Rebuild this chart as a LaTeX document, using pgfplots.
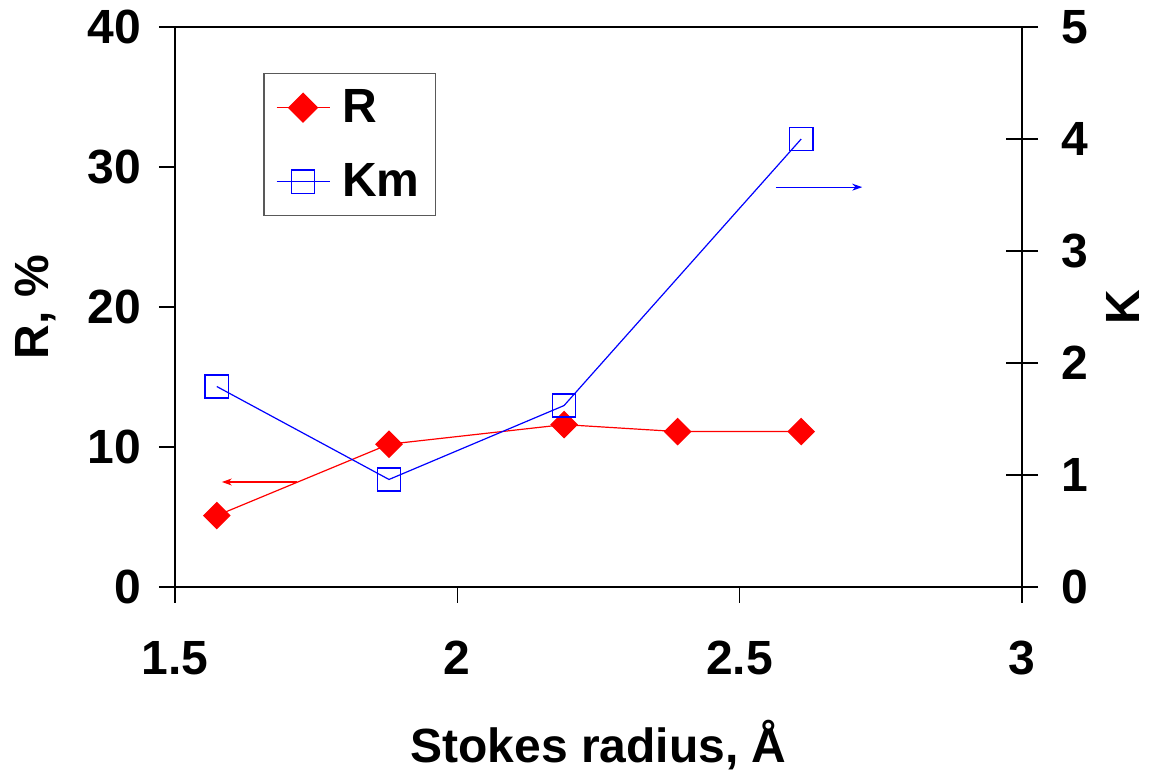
\documentclass[border=0pt]{standalone}
\usepackage{fontspec}
\setmainfont{Liberation Sans}
\usepackage{pgfplots}
\pgfplotsset{compat=1.18}
\usetikzlibrary{arrows.meta}

\begin{document}
\begin{tikzpicture}
\useasboundingbox (-87.5pt,-91.5pt) rectangle (488pt,293.5pt);
\pgfplotsset{
  every axis/.append style={
    scale only axis, width=423.5pt, height=280pt,
    at={(0,0)}, anchor=south west,
    xmin=1.5, xmax=3,
    font=\fontsize{24}{28}\selectfont\bfseries,
    /pgf/number format/assume math mode=true,
    axis line style={line width=0.75pt},
    tick style={line width=0.75pt, black},
  },
  rstyle/.style={red, line width=0.6pt, mark=square*, mark size=4.6pt,
    mark options={rotate=45, solid, fill=red, draw=red}},
  kstyle/.style={blue, line width=0.6pt, mark=square, mark size=5.8pt,
    mark options={solid, fill=white, draw=blue, line width=0.7pt}},
}
% left axis: R, %
\begin{axis}[
  axis lines=box,
  xtick pos=lower, ytick pos=left,
  tick align=outside, major tick length=8pt,
  ymin=0, ymax=40, ytick={0,10,20,30,40},
  xtick={1.5,2,2.5,3},
  xlabel={Stokes radius, Å},
  ylabel={R, \%},
  xlabel style={at={(axis description cs:0.5,-0.282)}, anchor=center},
  ylabel style={at={(axis description cs:-0.165,0.5)}, anchor=center},
  yticklabel style={anchor=east, xshift=-5.5pt},
  xticklabel style={anchor=north, yshift=-15.5pt},
]
\addplot[rstyle] coordinates {
  (1.574,5.1) (1.879,10.2) (2.189,11.6) (2.390,11.1) (2.609,11.1)
};
\addplot[red, line width=0.6pt, -{Stealth[length=5pt,width=3.5pt]}]
  coordinates {(1.716,7.5) (1.583,7.5)};
\end{axis}
% right axis: K
\begin{axis}[
  axis x line=none, axis y line*=right,
  tick align=center, major tick length=16pt,
  ymin=0, ymax=5, ytick={0,1,2,3,4,5},
  ylabel={K},
  ylabel style={at={(axis description cs:1.139,0.5)}, anchor=south, inner sep=0pt},
  yticklabel style={anchor=west, xshift=8pt},
  legend style={at={(axis description cs:0.104,0.918)}, anchor=north west,
    draw=black!65, line width=0.75pt, inner xsep=6pt, inner ysep=6pt,
    row sep=15pt, font=\fontsize{24}{28}\selectfont\bfseries},
  legend cell align=left,
  legend image code/.code={
    \draw[mark repeat=2, mark phase=2, #1]
      plot coordinates {(0pt,0pt) (13.25pt,0pt) (26.5pt,0pt)};
  },
]
\addlegendimage{rstyle, line width=0.75pt, mark size=5pt}
\addlegendentry{\hspace{4pt}R}
\addplot[kstyle] coordinates {
  (1.574,1.79) (1.879,0.96) (2.189,1.62) (2.609,4.0)
};
\addlegendentry{\hspace{4pt}Km}
\addplot[blue, line width=0.6pt, -{Stealth[length=5pt,width=3.5pt]}, forget plot]
  coordinates {(2.564,3.57) (2.717,3.57)};
\end{axis}
\end{tikzpicture}
\end{document}
